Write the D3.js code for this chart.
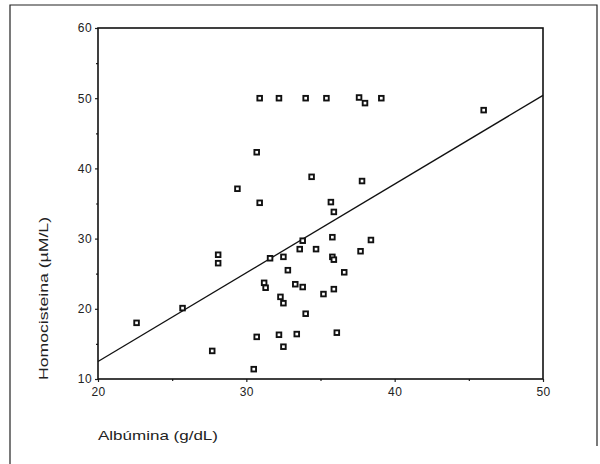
<!DOCTYPE html>
<html>
<head>
<meta charset="utf-8">
<script src="https://cdn.jsdelivr.net/npm/d3@7"></script>
<style>
  body { margin: 0; background: #fff; }
  svg { display: block; }
  text { font-family: "Liberation Sans", Arial, sans-serif; fill: #222; }
</style>
</head>
<body>
<div id="chart"></div>
<script>
// Data
const albumina = [22.6, 25.7, 28.1, 28.1, 27.7, 29.4, 30.9, 30.7, 30.9, 32.2, 34.0, 35.4, 37.6, 38.0, 39.1, 46.0,
  34.4, 37.8, 35.7, 35.9, 31.6, 32.5, 32.8, 31.2, 31.3, 32.3, 32.5, 30.7, 30.5, 32.2, 32.5, 33.4,
  33.6, 33.8, 34.7, 35.8, 38.4, 37.7, 35.8, 35.9, 36.6, 33.3, 33.8, 35.2, 35.9, 34.0, 36.1]
const homocisteina = [18.0, 20.1, 27.7, 26.5, 14.0, 37.1, 35.1, 42.3, 50.0, 50.0, 50.0, 50.0, 50.1, 49.3, 50.0, 48.3,
  38.8, 38.2, 35.2, 33.8, 27.2, 27.4, 25.5, 23.7, 23.0, 21.7, 20.8, 16.0, 11.4, 16.3, 14.6, 16.4,
  28.5, 29.7, 28.5, 30.2, 29.8, 28.2, 27.4, 27.0, 25.2, 23.5, 23.1, 22.1, 22.8, 19.3, 16.6]
const fitLine = [[20, 12.5], [50, 50.4]]
const xTicks = [20, 30, 40, 50]
const xMinor = [25, 35, 45]
const yTicks = [10, 20, 30, 40, 50, 60]
const yMinor = [15, 25, 35, 45, 55]

const width = 600, height = 464
const plot = { left: 98, right: 543, top: 28, bottom: 379 }

const svg = d3.select('#chart').append('svg')
  .attr('width', width)
  .attr('height', height)

// outer frame (scan border, bottom edge missing)
svg.append('path')
  .attr('d', 'M10,464 L10,5 L597,5 L597,446')
  .attr('fill', 'none')
  .attr('stroke', '#222')
  .attr('stroke-width', 1.2)

const x = d3.scaleLinear().domain([20, 50]).range([plot.left, plot.right])
const y = d3.scaleLinear().domain([10, 60]).range([plot.bottom, plot.top])

svg.append('g')
  .attr('transform', `translate(0,${plot.bottom})`)
  .call(d3.axisBottom(x).tickValues(xTicks).tickSize(3).tickPadding(5).tickFormat(d3.format('d')))
svg.append('g')
  .attr('transform', `translate(0,${plot.bottom})`)
  .call(d3.axisBottom(x).tickValues(xMinor).tickSize(2).tickFormat(''))

svg.append('g')
  .attr('transform', `translate(${plot.left},0)`)
  .call(d3.axisLeft(y).tickValues(yTicks).tickSize(3).tickPadding(3).tickFormat(d3.format('d')))
svg.append('g')
  .attr('transform', `translate(${plot.left},0)`)
  .call(d3.axisLeft(y).tickValues(yMinor).tickSize(2).tickFormat(''))

svg.selectAll('.domain').remove()
svg.selectAll('.tick line').attr('stroke', '#222').attr('stroke-width', 1.2)
svg.selectAll('.tick text')
  .style('font-size', '12px')
  .style('letter-spacing', '0.4px')
  .attr('fill', '#222')

// plot box
svg.append('rect')
  .attr('x', plot.left)
  .attr('y', plot.top)
  .attr('width', plot.right - plot.left)
  .attr('height', plot.bottom - plot.top)
  .attr('fill', 'none')
  .attr('stroke', '#111')
  .attr('stroke-width', 1.6)

// regression line
svg.append('line')
  .attr('x1', x(fitLine[0][0])).attr('y1', y(fitLine[0][1]))
  .attr('x2', x(fitLine[1][0])).attr('y2', y(fitLine[1][1]))
  .attr('stroke', '#111')
  .attr('stroke-width', 1.3)

// points
const pts = albumina.map((a, i) => ({ a: a, h: homocisteina[i] }))
svg.append('g').selectAll('rect')
  .data(pts)
  .enter().append('rect')
    .attr('x', d => x(d.a) - 2.3)
    .attr('y', d => y(d.h) - 2.3)
    .attr('width', 4.6)
    .attr('height', 4.6)
    .attr('fill', '#fff')
    .attr('stroke', '#111')
    .attr('stroke-width', 1.9)

// axis titles
svg.append('text')
  .attr('x', 98)
  .attr('y', 440)
  .attr('textLength', 120)
  .attr('lengthAdjust', 'spacingAndGlyphs')
  .style('font-size', '13px')
  .text('Albúmina (g/dL)')

svg.append('text')
  .attr('transform', 'translate(48,380) rotate(-90)')
  .attr('textLength', 163)
  .attr('lengthAdjust', 'spacingAndGlyphs')
  .style('font-size', '13px')
  .text('Homocisteina (µM/L)')
</script>
</body>
</html>
